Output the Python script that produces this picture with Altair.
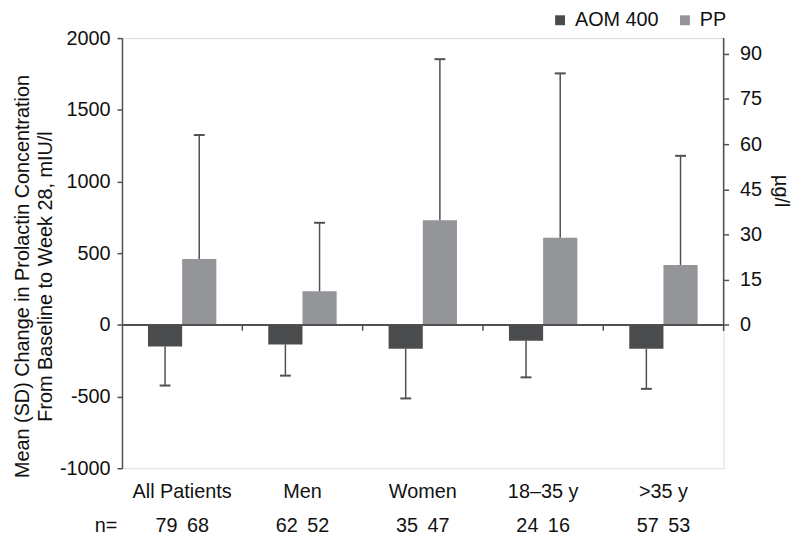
import altair as alt
import pandas as pd

categories = ["All Patients", "Men", "Women", "18–35 y", ">35 y"]
series = ["AOM 400", "PP"]
aom_mean = [-150, -136, -166, -110, -166]
aom_sd = [273, 218, 347, 256, 280]
pp_mean = [460, 234, 729, 607, 418]
pp_sd = [864, 478, 1124, 1147, 761]
n_aom = [79, 62, 35, 24, 57]
n_pp = [68, 52, 47, 16, 53]
left_ticks = [-1000, -500, 0, 500, 1000, 1500, 2000]
right_ticks = [0, 15, 30, 45, 60, 75, 90]
conv = 21.0  # mIU/l per µg/l

rows = []
for i, c in enumerate(categories):
    rows.append({"cat": c, "series": "AOM 400", "mean": aom_mean[i], "tip": aom_mean[i] - aom_sd[i]})
    rows.append({"cat": c, "series": "PP", "mean": pp_mean[i], "tip": pp_mean[i] + pp_sd[i]})
df = pd.DataFrame(rows)

bounds = pd.DataFrame({"cat": categories[1:]})
right_df = pd.DataFrame({"lo": [-2.0], "hi": [2000 / conv]})

FONT = "Liberation Sans"
AX = "#505050"
TXT = "#111111"
FS = 20
GAP = "\u00a0\u2009"

nmap = " : ".join(
    f"datum.label == '{c}' ? '{a}{GAP}{b}'" for c, a, b in zip(categories, n_aom, n_pp)
) + " : ''"

xscale = alt.Scale(domain=categories, paddingInner=0, paddingOuter=0)
yscale = alt.Scale(domain=[-1000, 2000], nice=False, zero=False)
xoff = alt.XOffset("series:N", scale=alt.Scale(domain=series, paddingInner=0, paddingOuter=0.76))

xaxis = alt.Axis(
    title="n=", domain=False, ticks=False, labelAngle=0, labelFontSize=FS, labelFont=FONT,
    labelColor=TXT, labelPadding=13, labelLineHeight=35,
    labelExpr=f"[datum.label, {nmap}]",
    titleX=-28, titleY=58, titleAlign="left", titleBaseline="middle", titleFontSize=FS,
    titleFontWeight="normal", titleFont=FONT, titleColor=TXT,
)
yaxis = alt.Axis(
    values=left_ticks, labelExpr="'' + datum.value", grid=False, tickSize=5, tickColor=AX,
    domainColor=AX, domainWidth=1.5, tickWidth=1.5, labelFontSize=FS, labelFont=FONT,
    labelColor=TXT, labelPadding=7,
    title=["Mean (SD) Change in Prolactin Concentration", "From Baseline to Week 28, mIU/l"],
    titleFontSize=FS, titleFont=FONT, titleFontWeight="normal", titleColor=TXT,
    titleAngle=270, titleX=-110, titleY=240, titleBaseline="top", titleAlign="center",
    titleLineHeight=23,
)

base = alt.Chart(df)
bars = base.mark_bar().encode(
    x=alt.X("cat:N", scale=xscale, axis=xaxis, sort=categories),
    xOffset=xoff,
    y=alt.Y("mean:Q", scale=yscale, axis=yaxis),
    y2=alt.datum(0),
    color=alt.Color(
        "series:N", scale=alt.Scale(domain=series, range=["#4b4c4e", "#939598"]),
        legend=alt.Legend(
            title=None, orient="none", legendX=432, legendY=-28, direction="horizontal",
            symbolType="square", symbolSize=100, symbolStrokeWidth=0, labelFontSize=FS,
            labelFont=FONT, labelColor=TXT, columnPadding=16, labelOffset=5,
        ),
    ),
)
err = base.mark_rule(color=AX, strokeWidth=1.5).encode(
    x=alt.X("cat:N", scale=xscale, sort=categories), xOffset=xoff,
    y=alt.Y("mean:Q", scale=yscale), y2="tip:Q",
)
caps = base.mark_tick(color=AX, thickness=2, size=11, orient="horizontal", opacity=1).encode(
    x=alt.X("cat:N", scale=xscale, sort=categories), xOffset=xoff,
    y=alt.Y("tip:Q", scale=yscale),
)
zero = alt.Chart(df).mark_rule(color=AX, strokeWidth=1.5).encode(y=alt.datum(0))
bticks = alt.Chart(bounds).mark_rule(color=AX, strokeWidth=1.5).encode(
    x=alt.X("cat:N", scale=xscale, bandPosition=0, sort=categories),
    y=alt.datum(0), y2=alt.datum(-41),
)

left = alt.layer(bars, err, caps, zero, bticks)

right = alt.Chart(right_df).mark_rule(color=AX, strokeWidth=1.5).encode(
    x=alt.value(607),
    y=alt.Y(
        "lo:Q", scale=alt.Scale(domain=[-1000 / conv, 2000 / conv], nice=False, zero=False),
        axis=alt.Axis(
            orient="right", values=right_ticks, domain=False, grid=False, tickSize=5,
            tickColor=AX, tickWidth=1.5, labelFontSize=FS, labelFont=FONT, labelColor=TXT,
            labelPadding=11, title="µg/l", titleFontSize=FS, titleFont=FONT,
            titleFontWeight="normal", titleColor=TXT, titleY=154, titleX=57,
            titleBaseline="middle", titleAngle=90,
        ),
    ),
    y2="hi:Q",
)

chart = alt.layer(left, right).resolve_scale(y="independent").properties(
    width=607, height=434,
    autosize=alt.AutoSizeParams(type="none"),
    padding={"left": 115, "top": 28, "right": 69, "bottom": 70},
).configure_view(stroke=None).configure(font=FONT)

chart.save("out.html", embed_options={"renderer": "svg", "actions": False})
